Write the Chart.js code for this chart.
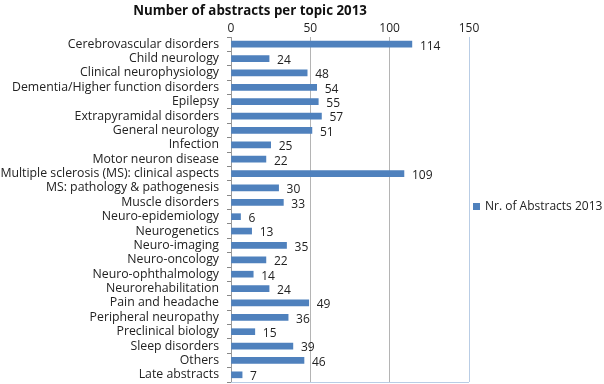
<!DOCTYPE html>
<html>
<head>
<meta charset="utf-8">
<script src="https://cdn.jsdelivr.net/npm/chart.js@4.4.0/dist/chart.umd.min.js"></script>
<style>
  body { margin: 0; background: #fff; }
  #wrap { width: 604px; height: 384px; }
</style>
</head>
<body>
<div id="wrap"><canvas id="abstractsChart"></canvas></div>
<script>
const topics = [
  "Cerebrovascular disorders",
  "Child neurology",
  "Clinical neurophysiology",
  "Dementia/Higher function disorders",
  "Epilepsy",
  "Extrapyramidal disorders",
  "General neurology",
  "Infection",
  "Motor neuron disease",
  "Multiple sclerosis (MS): clinical aspects",
  "MS: pathology & pathogenesis",
  "Muscle disorders",
  "Neuro-epidemiology",
  "Neurogenetics",
  "Neuro-imaging",
  "Neuro-oncology",
  "Neuro-ophthalmology",
  "Neurorehabilitation",
  "Pain and headache",
  "Peripheral neuropathy",
  "Preclinical biology",
  "Sleep disorders",
  "Others",
  "Late abstracts",
];
const abstracts2013 = [114, 24, 48, 54, 55, 57, 51, 25, 22, 109, 30, 33, 6, 13, 35, 22, 14, 24, 49, 36, 15, 39, 46, 7];
const xTicks = [0, 50, 100, 150];
const seriesName = "Nr. of Abstracts 2013";
const chartTitle = "Number of abstracts per topic 2013";

const FONT = "'Open Sans', 'Liberation Sans', sans-serif";
const BAR_COLOR = "#4f81bd";

// title, value labels, legend and bottom border drawn by hand
const extras = {
  id: "extras",
  afterDatasetsDraw(chart) {
    const { ctx, chartArea } = chart;
    ctx.save();

    ctx.strokeStyle = "#b9cde5";
    ctx.lineWidth = 1;
    ctx.beginPath();
    ctx.moveTo(chartArea.left, chartArea.bottom + 0.5);
    ctx.lineTo(chartArea.right, chartArea.bottom + 0.5);
    ctx.stroke();

    ctx.fillStyle = "#222";
    ctx.font = "12px " + FONT;
    ctx.textBaseline = "middle";
    ctx.textAlign = "left";
    chart.getDatasetMeta(0).data.forEach((bar, i) => {
      ctx.fillText(String(abstracts2013[i]), bar.x + 8, bar.y + 2);
    });

    ctx.font = "bold 13.3px " + FONT;
    ctx.textAlign = "center";
    ctx.fillStyle = "#111";
    ctx.fillText(chartTitle, 250, 11);

    ctx.fillStyle = BAR_COLOR;
    ctx.fillRect(473, 203, 7, 7);
    ctx.fillStyle = "#222";
    ctx.font = "12px " + FONT;
    ctx.textAlign = "left";
    ctx.fillText(seriesName, 485, 207);

    ctx.restore();
  },
};

new Chart(document.getElementById("abstractsChart"), {
  type: "bar",
  data: {
    labels: topics,
    datasets: [
      {
        label: seriesName,
        data: abstracts2013,
        backgroundColor: BAR_COLOR,
        barThickness: 6,
      },
    ],
  },
  options: {
    indexAxis: "y",
    responsive: true,
    maintainAspectRatio: false,
    animation: false,
    layout: { padding: { top: 20, right: 135, bottom: 2, left: 0 } },
    plugins: {
      legend: { display: false },
      tooltip: { enabled: false },
    },
    scales: {
      x: {
        position: "top",
        min: 0,
        max: 150,
        afterBuildTicks(scale) {
          scale.ticks = xTicks.map((v) => ({ value: v }));
        },
        afterFit(scale) {
          scale.height = 17;
          scale.paddingLeft = 0;
          scale.paddingRight = 0;
        },
        ticks: {
          color: "#222",
          font: { size: 12, family: FONT },
          padding: 1,
        },
        grid: {
          drawTicks: false,
          color: (c) => (c.tick && c.tick.value === 150 ? "#b9cde5" : "#b4b4b4"),
          lineWidth: 1,
        },
        border: { display: false },
      },
      y: {
        afterFit(scale) {
          scale.width = 231;
          scale.paddingTop = 0;
          scale.paddingBottom = 0;
        },
        ticks: {
          color: "#222",
          font: { size: 12.3, family: FONT },
          padding: 8,
          autoSkip: false,
        },
        grid: {
          drawOnChartArea: false,
          drawTicks: true,
          tickLength: 4,
          color: "#888",
        },
        border: { display: true, color: "#999" },
      },
    },
  },
  plugins: [extras],
});
</script>
</body>
</html>
